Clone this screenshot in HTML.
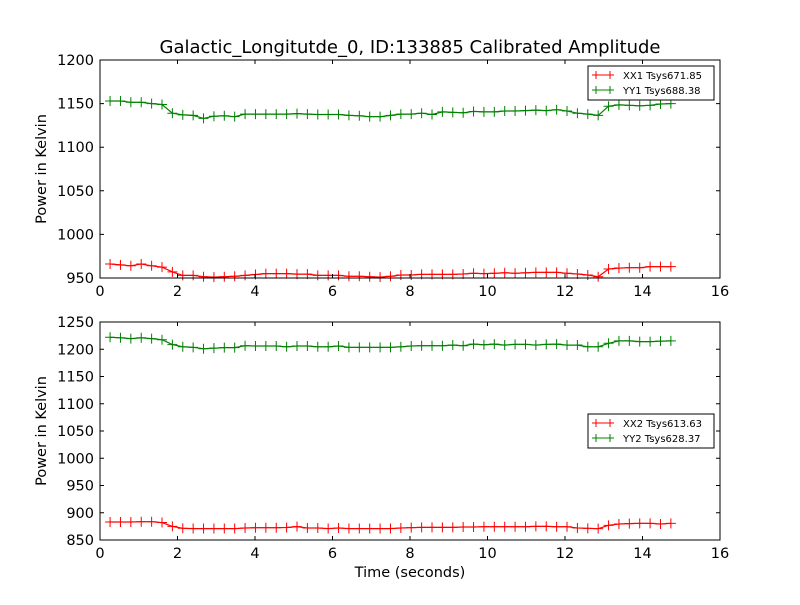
<!DOCTYPE html>
<html><head><meta charset="utf-8"><style>
body{margin:0;background:#fff;}
svg text{font-family:"DejaVu Sans","Liberation Sans",sans-serif;fill:#000;}
</style></head><body>
<svg id="c" width="800" height="600" xmlns="http://www.w3.org/2000/svg">
<rect width="800" height="600" fill="#fff"/>
<text x="410" y="53" font-size="18" text-anchor="middle">Galactic_Longitutde_0, ID:133885 Calibrated Amplitude</text>
</svg>
<script>
const xx1 = [966,965,964,966,964,962.5,957,953,953,951.5,951,951.5,952,953,954,955,955,955,954.5,954.5,953,953,953,952,952,951.5,951,952,953.4,953.4,954.2,954.2,954.2,954.2,954.6,955.4,955,955.4,956,955.4,956,956.5,956.5,956.5,955.4,954.6,953.4,951.5,960.3,961.4,961.8,961.8,963,963,963];
const yy1 = [1153,1153,1151.5,1151.5,1150,1149,1139,1137,1136.5,1133,1135.5,1136,1135,1138,1138,1138,1138,1138,1138.5,1138,1137.5,1137.5,1137.5,1136.5,1136,1135,1135,1136.5,1138,1138,1139,1137.5,1140.5,1140,1139.5,1141,1140.5,1140.5,1141.5,1141.5,1142,1142.5,1142,1143,1141.5,1139,1138,1136.5,1147,1148.5,1148,1147.5,1148,1149.5,1150];
const xx2 = [883,883,883,883.5,883.5,882,875,871.5,871,871,871,871,871,872,872.5,872.5,872.5,873,874.5,872,872,871,872,871,871,871,871,871,872,872.6,873.2,873.2,873.2,873.2,873.8,873.8,874.4,874.4,874.4,874.4,874.4,875,875,874.4,874.4,872,871.4,870.8,876.9,879.4,880,880.6,880.6,879.4,880.6];
const yy2 = [1222,1221,1219.5,1221,1219.5,1217.5,1208.5,1204.5,1203.5,1201,1202,1203,1203,1206.5,1206,1206,1206,1204.5,1206,1206,1204.5,1204.5,1206,1203.5,1203.5,1203.5,1203.5,1203.5,1204.5,1206,1206.5,1206.5,1206.5,1207.7,1206.5,1209.5,1208.3,1209.5,1207.7,1209,1209,1207.7,1209,1209.5,1207.7,1207.7,1204.5,1204.5,1211,1215.4,1215.4,1214,1214,1214.8,1215.4];
const t0 = 0.26, dt = 0.268;
const xTicks = [0,2,4,6,8,10,12,14,16];
const yTicksTop = [950,1000,1050,1100,1150,1200];
const yTicksBot = [850,900,950,1000,1050,1100,1150,1200,1250];
const legTop = ["XX1 Tsys671.85","YY1 Tsys688.38"];
const legBot = ["XX2 Tsys613.63","YY2 Tsys628.37"];

const svg = document.getElementById('c');
const NS = 'http://www.w3.org/2000/svg';
function mk(tag, attrs, parent){const e=document.createElementNS(NS,tag);for(const k in attrs)e.setAttribute(k,attrs[k]);(parent||svg).appendChild(e);return e;}
const L=100,R=720;
const sx = v => L + (v-0)/(16-0)*(R-L);

function panel(top,bot,ymin,ymax,yTicks,seriesA,seriesB,leg,legY,name){
  const g = mk('g',{});
  
  
  const sy = v => bot - (v-ymin)/(ymax-ymin)*(bot-top);
  [[seriesA,'#ff0000','xx'],[seriesB,'#008000','yy']].forEach(([s,col,nm])=>{
    const pts = s.map((v,i)=>sx(t0+i*dt).toFixed(1)+','+sy(v).toFixed(1)).join(' ');
    const pl = mk('polyline',{points:pts,fill:'none',stroke:col,'stroke-width':1.2},g);
    
    
    s.forEach((v,i)=>{
      const x=sx(t0+i*dt), y=sy(v);
      const m = mk('path',{d:`M${x-5},${y}H${x+5}M${x},${y-5}V${y+5}`,stroke:col,'stroke-width':1},g);
      
      
    });
  });
  const fr = mk('rect',{x:L,y:top,width:R-L,height:bot-top,fill:'none',stroke:'#000','stroke-width':1},g);
  
  
  xTicks.forEach(v=>{
    const x=sx(v);
    mk('path',{d:`M${x},${bot}V${bot-4}M${x},${top}V${top+4}`,stroke:'#000'},g);
    const tx = mk('text',{x:x,y:bot+18,'font-size':14.5,'text-anchor':'middle'},g);
    tx.textContent=v;
    
    
  });
  yTicks.forEach(v=>{
    const y=sy(v);
    mk('path',{d:`M${L},${y}H${L+4}M${R},${y}H${R-4}`,stroke:'#000'},g);
    const tx = mk('text',{x:L-6,y:y+5,'font-size':14.5,'text-anchor':'end'},g);
    tx.textContent=v;
    
    
  });
  const yl = mk('text',{x:0,y:0,'font-size':14.5,'text-anchor':'middle',transform:`translate(46,${(top+bot)/2}) rotate(-90)`},g);
  yl.textContent='Power in Kelvin';
  
  
  const lg = mk('g',{},g);
  
  
  mk('rect',{x:588,y:legY,width:126,height:34,fill:'#fff',stroke:'#000','stroke-width':1},lg);
  [['#ff0000',leg[0]],['#008000',leg[1]]].forEach(([col,txt],i)=>{
    const y=legY+9+i*15;
    const e = mk('g',{},lg);
    
    
    mk('path',{d:`M592,${y}H614M596,${y-4}V${y+4}M610,${y-4}V${y+4}`,stroke:col,'stroke-width':1},e);
    const tx = mk('text',{x:623,y:y+4,'font-size':10},e);
    tx.textContent=txt;
  });
}
panel(60,278,950,1200,yTicksTop,xx1,yy1,legTop,66,'top-panel');
panel(322,540,850,1250,yTicksBot,xx2,yy2,legBot,414,'bottom-panel');
const xl = mk('text',{x:410,y:577,'font-size':14.5,'text-anchor':'middle'});
xl.textContent='Time (seconds)';


</script>
</body></html>
